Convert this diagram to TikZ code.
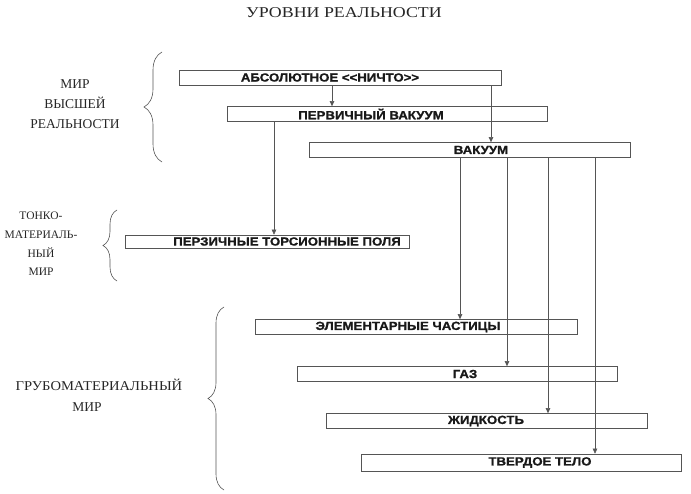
\documentclass[tikz,border=0pt]{standalone}
\usepackage{fontspec}
\usepackage{graphicx}
\setmainfont{Liberation Serif}
\newfontfamily\boxfont[BoldFeatures={FakeBold=1}]{Liberation Sans}
\usetikzlibrary{arrows.meta,decorations.pathreplacing}
\definecolor{ln}{HTML}{555555}
\newcommand{\wbox}[1]{\scalebox{1.12}[1]{#1}}
\newcommand{\wlab}[1]{\scalebox{1.08}[1]{#1}}
\begin{document}
\begin{tikzpicture}[x=1pt,y=-1pt,
  box/.style={draw=ln,line width=0.6pt,minimum width=#1,minimum height=15pt,inner sep=0pt},
  boxtext/.style={font=\boxfont\bfseries\fontsize{11.8}{12}\selectfont,text=black!90,inner sep=0pt},
  lab/.style={font=\fontsize{13.5}{20}\selectfont,align=center,text=black!85,inner sep=0pt},
  arr/.style={draw=ln,line width=0.5pt,-{Triangle[length=5pt,width=4.5pt]}},
  brc/.style={draw=ln,line width=0.6pt,decorate,decoration={brace,amplitude=#1}}]
\useasboundingbox (0,0) rectangle (691,494);
% title
\node[font=\fontsize{15}{16}\selectfont,text=black!85,inner sep=0pt] (title) at (344,13) {\scalebox{1.19}[1]{УРОВНИ РЕАЛЬНОСТИ}};
% boxes
\node[box=322pt] (b1) at (340,77.5) {};
\node[box=320pt] (b2) at (387,114) {};
\node[box=321pt] (b3) at (469.5,150) {};
\node[box=284pt,minimum height=13pt] (bt) at (267,241.5) {};
\node[box=322pt] (be) at (416,327) {};
\node[box=320pt] (bg) at (457,374) {};
\node[box=321pt] (bz) at (486.5,421) {};
\node[box=320pt,minimum height=17pt] (bs) at (521,462.5) {};
% box texts
\node[boxtext] (t1) at (330,77.5) {\wbox{АБСОЛЮТНОЕ \textless\textless{}НИЧТО\textgreater\textgreater}};
\node[boxtext] (t2) at (371,114) {\wbox{ПЕРВИЧНЫЙ ВАКУУМ}};
\node[boxtext] (t3) at (481,150) {\wbox{ВАКУУМ}};
\node[boxtext] (tt) at (287,241.5) {\wbox{ПЕРЗИЧНЫЕ ТОРСИОННЫЕ ПОЛЯ}};
\node[boxtext] (te) at (408,327) {\wbox{ЭЛЕМЕНТАРНЫЕ ЧАСТИЦЫ}};
\node[boxtext] (tg) at (465,374) {\wbox{ГАЗ}};
\node[boxtext] (tz) at (486,421) {\wbox{ЖИДКОСТЬ}};
\node[boxtext] (ts) at (540,462.5) {\wbox{ТВЕРДОЕ ТЕЛО}};
% arrow x positions
\coordinate (xa) at (332,0);
\coordinate (xb) at (491,0);
\coordinate (xc) at (274,0);
\coordinate (xd) at (460,0);
\coordinate (xe) at (507,0);
\coordinate (xf) at (548,0);
\coordinate (xg) at (595,0);
\draw[arr] (b1.south -| xa) -- (b2.north -| xa);
\draw[arr] (b1.south -| xb) -- (b3.north -| xb);
\draw[arr] (b2.south -| xc) -- (bt.north -| xc);
\draw[arr] (b3.south -| xd) -- (be.north -| xd);
\draw[arr] (b3.south -| xe) -- (bg.north -| xe);
\draw[arr] (b3.south -| xf) -- (bz.north -| xf);
\draw[arr] (b3.south -| xg) -- (bs.north -| xg);
% braces
\coordinate (r1a) at (162,162); \coordinate (r1b) at (162,52);
\coordinate (r2a) at (117,281); \coordinate (r2b) at (117,210);
\coordinate (r3a) at (224,490); \coordinate (r3b) at (224,307);
\draw[brc=18pt] (r1a) -- (r1b);
\draw[brc=14pt] (r2a) -- (r2b);
\draw[brc=16pt] (r3a) -- (r3b);
% labels
\node[lab] (l1) at (75,104) {МИР\\ВЫСШЕЙ\\РЕАЛЬНОСТИ};
\node[lab,font=\fontsize{11.5}{18.6}\selectfont] (l2) at (41,244) {ТОНКО-\\МАТЕРИАЛЬ-\\НЫЙ\\МИР};
\node[lab] (l3a) at (99,385) {\wlab{ГРУБОМАТЕРИАЛЬНЫЙ}};
\node[lab] (l3b) at (87,407) {МИР};
\end{tikzpicture}
\end{document}
